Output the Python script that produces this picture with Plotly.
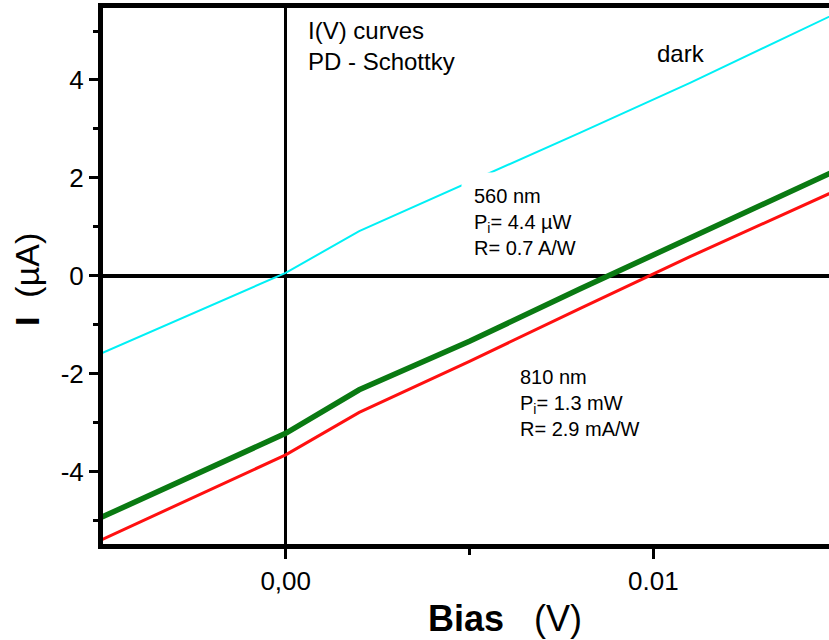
import plotly.graph_objects as go

# Bias sweep (V) and measured currents (µA)
bias = [-0.005, 0.0, 0.002, 0.005, 0.008, 0.011, 0.015]
i_dark = [-1.58, 0.06, 0.91, 1.91, 2.92, 3.94, 5.37]
i_560 = [-4.93, -3.22, -2.33, -1.34, -0.27, 0.78, 2.16]
i_810 = [-5.39, -3.66, -2.79, -1.75, -0.67, 0.39, 1.75]

x_ticks = [0.0, 0.01]
x_ticklabels = ["0,00", "0.01"]
x_minor = [-0.005, 0.005]
y_ticks = [-4, -2, 0, 2, 4]
y_ticklabels = ["-4", "-2", "0", "2", "4"]
y_minor = [-5, -3, -1, 1, 3, 5]

FONT = "Arial, Liberation Sans, sans-serif"

fig = go.Figure()
fig.add_trace(go.Scatter(x=bias, y=i_dark, mode="lines", name="dark",
                         line=dict(color="#00F0F5", width=2)))
fig.add_trace(go.Scatter(x=bias, y=i_810, mode="lines", name="810 nm",
                         line=dict(color="#FF1010", width=3)))
fig.add_trace(go.Scatter(x=bias, y=i_560, mode="lines", name="560 nm",
                         line=dict(color="#0A7A12", width=5.5)))

# pixel helpers for the plot area: left 103, right 829, top 8, bottom 544
def px(xp):
    return (xp - 103) / 726.0

def py(yp):
    return (544 - yp) / 536.0

annotations = [
    dict(text="I(V) curves<br>PD - Schottky", x=px(306), y=py(15), xanchor="left",
         yanchor="top", align="left", font=dict(size=24)),
    dict(text="dark", x=px(681), y=py(54), xanchor="center", yanchor="middle",
         font=dict(size=24)),
    dict(text="560 nm<br>P<sub>i</sub>= 4.4 µW<br>R= 0.7 A/W", x=px(461), y=py(172),
         xanchor="left", yanchor="top", align="left", font=dict(size=20),
         bgcolor="white", borderpad=12),
    dict(text="810 nm<br>P<sub>i</sub>= 1.3 mW<br>R= 2.9 mA/W", x=px(518), y=py(364),
         xanchor="left", yanchor="top", align="left", font=dict(size=20)),
    dict(text="<b>Bias</b>   (V)", x=px(505), y=py(618), xanchor="center",
         yanchor="middle", font=dict(size=36)),
    dict(text="<b>I</b>  (µA)", x=px(27), y=py(280), xanchor="center",
         yanchor="middle", textangle=-90, font=dict(size=34)),
]
for a in annotations:
    a.update(xref="paper", yref="paper", showarrow=False)
    a["font"].update(family=FONT, color="black")

fig.update_layout(
    width=829, height=640,
    margin=dict(l=103, r=0, t=8, b=96),
    paper_bgcolor="white", plot_bgcolor="white",
    showlegend=False,
    font=dict(family=FONT, color="black"),
    annotations=annotations,
)
fig.update_xaxes(
    range=[-0.00497, 0.01478],
    showgrid=False, zeroline=True, zerolinecolor="black", zerolinewidth=3,
    showline=True, linecolor="black", linewidth=5, mirror=True,
    tickvals=x_ticks, ticktext=x_ticklabels, ticks="outside",
    ticklen=10, tickwidth=3, tickcolor="black",
    tickfont=dict(size=26, family=FONT, color="black"),
    minor=dict(tickvals=x_minor, ticks="outside", ticklen=6, tickwidth=3,
               tickcolor="black"),
)
fig.update_yaxes(
    range=[-5.48, 5.47],
    showgrid=False, zeroline=True, zerolinecolor="black", zerolinewidth=3.5,
    showline=True, linecolor="black", linewidth=5, mirror=False,
    tickvals=y_ticks, ticktext=y_ticklabels, ticks="outside",
    ticklen=9, tickwidth=3, tickcolor="black",
    tickfont=dict(size=26, family=FONT, color="black"),
    minor=dict(tickvals=y_minor, ticks="outside", ticklen=5, tickwidth=3,
               tickcolor="black"),
)

fig.write_html("out.html")
